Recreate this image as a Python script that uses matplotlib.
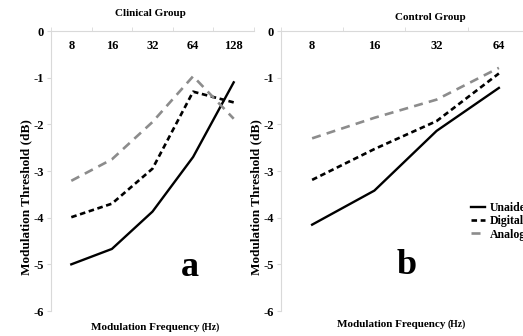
import matplotlib
matplotlib.use('Agg')
import matplotlib.pyplot as plt

plt.rcParams['font.family'] = ['Liberation Serif', 'DejaVu Serif']
plt.rcParams['font.weight'] = 'bold'
plt.rcParams['axes.unicode_minus'] = False
plt.rcParams['lines.scale_dashes'] = False

W, H = 523, 336

# ---- data ----
freq_clinical = ['8', '16', '32', '64', '128']
clin_unaided = [-5.00, -4.67, -3.87, -2.70, -1.10]
clin_digital = [-3.99, -3.70, -2.95, -1.30, -1.53]
clin_analog = [-3.21, -2.75, -1.95, -0.97, -1.88]

freq_control = ['8', '16', '32', '64']
ctrl_unaided = [-4.15, -3.42, -2.14, -1.22]
ctrl_digital = [-3.19, -2.53, -1.93, -0.91]
ctrl_analog = [-2.30, -1.86, -1.47, -0.79]

series_names = ['Unaided', 'Digital', 'Analog']
yticks = [0, -1, -2, -3, -4, -5, -6]

styles = {
    'Unaided': dict(color='black', lw=1.7, linestyle='-'),
    'Digital': dict(color='black', lw=1.9, linestyle=(0, (4.0, 2.6))),
    'Analog': dict(color='#8c8c8c', lw=1.9, linestyle=(0, (6.5, 4.5))),
}

fig = plt.figure(figsize=(W / 100, H / 100), dpi=100)


def px_rect(x0, y0, x1, y1):
    return [x0 / W, 1 - y1 / H, (x1 - x0) / W, (y1 - y0) / H]


def setup(ax, cats, title, title_xy, ylab_x, xlab_xy, letter, letter_xy):
    ax.set_xlim(-0.5, len(cats) - 0.5)
    ax.set_ylim(-6, 0)
    for s in ['right', 'bottom']:
        ax.spines[s].set_visible(False)
    for s in ['left', 'top']:
        ax.spines[s].set_color('#d9d9d9')
        ax.spines[s].set_linewidth(0.8)
    ax.set_yticks(yticks)
    ax.set_yticklabels([str(v) for v in yticks])
    ax.tick_params(axis='y', length=3, color='#d9d9d9', labelsize=9, pad=2)
    ax.set_xticks(range(len(cats)))
    ax.set_xticklabels(cats)
    ax.xaxis.set_ticks_position('top')
    ax.tick_params(axis='x', which='major', length=0, labelsize=9,
                   top=False, labeltop=True, bottom=False, labelbottom=False, pad=-15)
    ax.set_xticks([i + 0.5 for i in range(-1, len(cats))], minor=True)
    ax.tick_params(axis='x', which='minor', length=3, color='#d9d9d9', top=True, bottom=False)
    for lab in ax.get_xticklabels() + ax.get_yticklabels():
        lab.set_fontweight('bold')
    fig.text(title_xy[0] / W, 1 - title_xy[1] / H, title, ha='center', va='center',
             fontsize=8, fontweight='bold')
    fig.text(ylab_x / W, 1 - 197 / H, 'Modulation Threshold (dB)', rotation=90,
             ha='center', va='center', fontsize=9.5, fontweight='bold')
    fig.text(xlab_xy[0] / W, 1 - xlab_xy[1] / H, 'Modulation Frequency ',
             ha='right', va='baseline', fontsize=8, fontweight='bold')
    fig.text(xlab_xy[0] / W, 1 - xlab_xy[1] / H, '(Hz)', ha='left', va='baseline',
             fontsize=7, fontweight='bold')
    fig.text(letter_xy[0] / W, 1 - letter_xy[1] / H, letter, ha='center', va='center',
             fontsize=26, fontweight='bold')


ax1 = fig.add_axes(px_rect(51, 31, 254, 311))
for name, vals in zip(series_names, [clin_unaided, clin_digital, clin_analog]):
    ax1.plot(range(len(freq_clinical)), vals, label=name, **styles[name])
setup(ax1, freq_clinical, 'Clinical Group', (150, 14), 26, (202, 330), 'a', (190, 268))

ax2 = fig.add_axes(px_rect(281, 31, 530, 311))
handles = []
for name, vals in zip(series_names, [ctrl_unaided, ctrl_digital, ctrl_analog]):
    h, = ax2.plot(range(len(freq_control)), vals, label=name, **styles[name])
    handles.append(h)
setup(ax2, freq_control, 'Control Group', (430, 17), 256, (448, 327), 'b', (407, 265))

fig.legend(handles=handles, labels=series_names, loc='upper left',
           bbox_to_anchor=(466 / W, 1 - 197 / H), frameon=False,
           prop=dict(family='Liberation Serif', weight='bold', size=8.5),
           handlelength=1.2, handletextpad=0.4, labelspacing=0.12, borderaxespad=0)

fig.savefig('out.png', dpi=100)
